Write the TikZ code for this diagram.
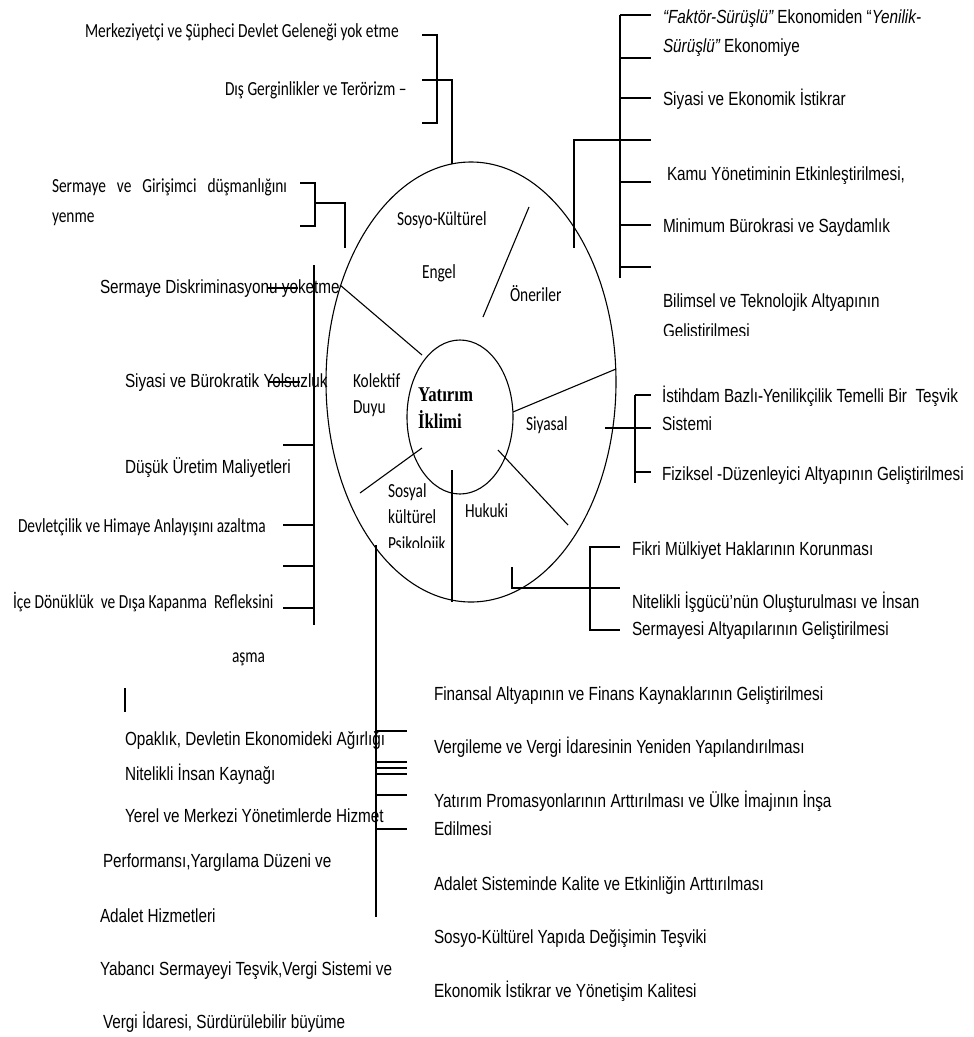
\documentclass[tikz,border=0pt]{standalone}
\usepackage{fontspec}
\newfontfamily\calfnt[FakeStretch=0.77]{Carlito}
\newfontfamily\narfnt[FakeStretch=0.805]{Liberation Sans}
\newfontfamily\tmsfnt[FakeStretch=0.8]{Liberation Serif}
\begin{document}
\begin{tikzpicture}[x=1pt,y=-1pt,
  lbl/.style={anchor=base west,inner sep=0pt,outer sep=0pt},
  ca/.style={lbl,font=\calfnt\fontsize{20}{22}\selectfont},
  na/.style={lbl,font=\narfnt\fontsize{19}{22}\selectfont},
  ln/.style={line width=1.1pt,black},
  ttl/.style={lbl,font=\tmsfnt\bfseries\fontsize{21}{24}\selectfont}]
\useasboundingbox[fill=white] (0,0) rectangle (974,1037);

% ellipses
\draw[ln] (471,382) ellipse [x radius=145, y radius=220];
\draw[ln] (460,417) ellipse [x radius=53, y radius=77];

% spokes
\draw[ln] (422,355) -- (340,285);
\draw[ln] (483,317) -- (529,207);
\draw[ln] (513,412) -- (616,369);
\draw[ln] (498,450) -- (568,525);
\draw[ln] (452,470) -- (452,602);
\draw[ln] (422,448) -- (360,493);

% top-left bracket
\draw[ln] (422,35) -- (437,35) -- (437,123) -- (422,123);
\draw[ln] (422,80) -- (452,80) -- (452,164);
% sermaye girisimci bracket
\draw[ln] (300,183) -- (315,183) -- (315,226) -- (300,226);
\draw[ln] (315,203) -- (345,203) -- (345,248);

% top-right bracket
\draw[ln] (620,15) -- (620,278);
\foreach \yy in {15,58,98,140,182,225,267} \draw[ln] (620,\yy) -- (651,\yy);
\draw[ln] (620,140) -- (574,140) -- (574,248);

% left long bracket
\draw[ln] (314,265) -- (314,625);
\foreach \yy in {445,525,566,608} \draw[ln] (283,\yy) -- (314,\yy);
\draw[ln] (268,288) -- (298,288);
\draw[ln] (268,382) -- (300,382);

% siyasal bracket
\draw[ln] (635,395) -- (635,483);
\draw[ln] (635,395) -- (651,395);
\draw[ln] (605,428) -- (651,428);
\draw[ln] (635,472) -- (651,472);

% hukuki bracket
\draw[ln] (512,567) -- (512,588) -- (620,588);
\draw[ln] (620,547) -- (590,547) -- (590,630) -- (620,630);

% bottom-left bracket
\draw[ln] (376,545) -- (376,917);
\foreach \yy in {731,762,768,774,795,829} \draw[ln] (376,\yy) -- (407,\yy);

% cursor mark
\draw[line width=2pt] (125,688) -- (125,712);

% circle labels
\node[ca] (sk) at (397,225) {Sosyo-Kültürel};
\node[ca] (en) at (422,278) {Engel};
\node[ca] (on) at (510,301) {Öneriler};
\node[ca] (ko) at (353,387) {Kolektif};
\node[ca] (du) at (353,413) {Duyu};
\node[ttl] (ya) at (418,401) {Yatırım};
\node[ttl] (ik) at (418,428) {İklimi};
\node[ca] (si) at (526,430) {Siyasal};
\node[ca] (so) at (388,497) {Sosyal};
\node[ca] (ku) at (388,523) {kültürel};
\begin{scope}
\clip (380,520) rectangle (470,547);
\node[ca] (ps) at (388,550) {Psikolojik};
\end{scope}
\node[ca] (hu) at (465,517) {Hukuki};

% top-left texts
\node[ca] (t1) at (85,37) {Merkeziyetçi ve Şüpheci Devlet Geleneği yok etme};
\node[ca] (t2) at (225,95) {Dış Gerginlikler ve Terörizm –};
\node[ca] (t3) at (52,192) {\hbox to 235pt{Sermaye\hfill ve\hfill Girişimci\hfill düşmanlığını}};
\node[ca] (t4) at (52,222) {yenme};

% top-right texts
\node[na] (r1) at (663,23) {\itshape “Faktör-Sürüşlü”\upshape{} Ekonomiden “\itshape Yenilik-};
\node[na] (r2) at (663,52) {\itshape Sürüşlü”\upshape{} Ekonomiye};
\node[na] (r3) at (663,105) {Siyasi ve Ekonomik İstikrar};
\node[na] (r4) at (667,180) {Kamu Yönetiminin Etkinleştirilmesi,};
\node[na] (r5) at (663,232) {Minimum Bürokrasi ve Saydamlık};
\node[na] (r6) at (663,307) {Bilimsel ve Teknolojik Altyapının};
\begin{scope}
\clip (655,315) rectangle (900,335);
\node[na] (r7) at (663,337) {Geliştirilmesi};
\end{scope}

% right middle texts
\node[na] (m1) at (662,402) {İstihdam Bazlı-Yenilikçilik Temelli Bir\ \ Teşvik};
\node[na] (m2) at (662,430) {Sistemi};
\node[na] (m3) at (662,480) {Fiziksel -Düzenleyici Altyapının Geliştirilmesi};
\node[na] (m4) at (632,555) {Fikri Mülkiyet Haklarının Korunması};
\node[na] (m5) at (632,608) {Nitelikli İşgücü’nün Oluşturulması ve İnsan};
\node[na] (m6) at (632,635) {Sermayesi Altyapılarının Geliştirilmesi};

% left texts
\node[na] (l1) at (100,293) {Sermaye Diskriminasyonu yoketme};
\node[na] (l2) at (125,387) {Siyasi ve Bürokratik Yolsuzluk};
\node[na] (l3) at (125,473) {Düşük Üretim Maliyetleri};
\node[ca] (l4) at (18,532) {Devletçilik ve Himaye Anlayışını azaltma};
\node[ca] (l5) at (13,608) {İçe Dönüklük\ \ ve Dışa Kapanma\ \ Refleksini};
\node[ca] (l6) at (232,662) {aşma};

% bottom-left texts
\node[na] (b1) at (125,745) {Opaklık, Devletin Ekonomideki Ağırlığı};
\node[na] (b2) at (125,780) {Nitelikli İnsan Kaynağı};
\node[na] (b3) at (125,822) {Yerel ve Merkezi Yönetimlerde Hizmet};
\node[na] (b4) at (103,867) {Performansı,Yargılama Düzeni ve};
\node[na] (b5) at (100,922) {Adalet Hizmetleri};
\node[na] (b6) at (100,975) {Yabancı Sermayeyi Teşvik,Vergi Sistemi ve};
\node[na] (b7) at (103,1028) {Vergi İdaresi, Sürdürülebilir büyüme};

% bottom-right texts
\node[na] (c1) at (434,700) {Finansal Altyapının ve Finans Kaynaklarının Geliştirilmesi};
\node[na] (c2) at (434,753) {Vergileme ve Vergi İdaresinin Yeniden Yapılandırılması};
\node[na] (c3) at (434,807) {Yatırım Promasyonlarının Arttırılması ve Ülke İmajının İnşa};
\node[na] (c4) at (434,835) {Edilmesi};
\node[na] (c5) at (434,890) {Adalet Sisteminde Kalite ve Etkinliğin Arttırılması};
\node[na] (c6) at (434,943) {Sosyo-Kültürel Yapıda Değişimin Teşviki};
\node[na] (c7) at (434,997) {Ekonomik İstikrar ve Yönetişim Kalitesi};
\end{tikzpicture}
\end{document}
